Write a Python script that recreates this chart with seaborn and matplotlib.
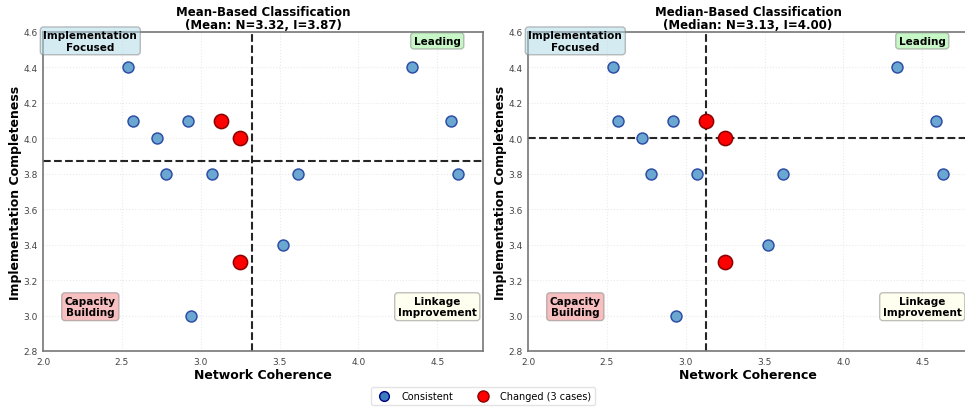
import numpy as np
import pandas as pd
import seaborn as sns
import matplotlib.pyplot as plt
from matplotlib.lines import Line2D

# network coherence / implementation completeness per case
network = [2.54, 2.57, 2.72, 2.78, 2.92, 3.07, 2.94, 3.52, 3.62, 4.34, 4.59, 4.63, 3.13, 3.25, 3.25]
implementation = [4.4, 4.1, 4.0, 3.8, 4.1, 3.8, 3.0, 3.4, 3.8, 4.4, 4.1, 3.8, 4.1, 4.0, 3.3]
changed = [False] * 12 + [True] * 3

quadrant_names = ['Implementation\nFocused', 'Leading', 'Capacity\nBuilding', 'Linkage\nImprovement']
quadrant_colors = ['lightblue', 'lightgreen', 'lightcoral', 'lightyellow']
quadrant_pos = [(2.3, 4.55), (4.5, 4.55), (2.3, 3.05), (4.5, 3.05)]

df = pd.DataFrame({'network': network, 'implementation': implementation, 'changed': changed})

sns.set_style('whitegrid')
plt.rcParams['font.family'] = ['DejaVu Sans']
plt.rcParams['text.color'] = 'black'
plt.rcParams['axes.labelcolor'] = 'black'

fig = plt.figure(figsize=(9.65, 4.1), dpi=100)
ax1 = fig.add_axes([43 / 965, 58 / 410, 440 / 965, 319 / 410])
ax2 = fig.add_axes([528 / 965, 58 / 410, 440 / 965, 319 / 410])

n_mean, i_mean = np.mean(network), np.mean(implementation)
n_med, i_med = np.median(network), np.median(implementation)

panels = [
    (ax1, n_mean, i_mean, f'Mean-Based Classification\n(Mean: N={n_mean:.2f}, I={i_mean:.2f})'),
    (ax2, n_med, i_med, f'Median-Based Classification\n(Median: N={n_med:.2f}, I={i_med:.2f})'),
]

for ax, nx, iy, title in panels:
    same = df[~df['changed']]
    diff = df[df['changed']]
    sns.scatterplot(data=same, x='network', y='implementation', ax=ax, s=62,
                    color='#6aa8d2', edgecolor='#2f4ea6', linewidth=1.1, legend=False, zorder=3)
    sns.scatterplot(data=diff, x='network', y='implementation', ax=ax, s=105,
                    color='red', edgecolor='darkred', linewidth=1.1, legend=False, zorder=4)
    ax.axvline(nx, color='black', linestyle='--', linewidth=1.5, alpha=0.85, zorder=2)
    ax.axhline(iy, color='black', linestyle='--', linewidth=1.5, alpha=0.85, zorder=2)

    for name, col, (tx, ty) in zip(quadrant_names, quadrant_colors, quadrant_pos):
        ax.text(tx, ty, name, ha='center', va='center', fontsize=7.5, fontweight='bold',
                bbox=dict(boxstyle='round,pad=0.3', facecolor=col, edgecolor='gray', alpha=0.5),
                zorder=5, clip_on=False)

    ax.set_xlim(2.0, 4.79)
    ax.set_ylim(2.8, 4.6)
    ax.set_xticks([2.0, 2.5, 3.0, 3.5, 4.0, 4.5])
    ax.set_yticks([2.8, 3.0, 3.2, 3.4, 3.6, 3.8, 4.0, 4.2, 4.4, 4.6])
    ax.tick_params(labelsize=6.5, colors='#444444', length=2, pad=2)
    ax.grid(True, linestyle=':', alpha=0.4)
    for sp in ax.spines.values():
        sp.set_color('#777777')
        sp.set_linewidth(1.2)
    ax.set_title(title, fontsize=8.5, fontweight='bold', pad=3, linespacing=1.0)
    ax.set_xlabel('Network Coherence', fontsize=9, fontweight='bold', labelpad=2)
    ax.set_ylabel('Implementation Completeness', fontsize=9, fontweight='bold', labelpad=1)

handles = [
    Line2D([], [], marker='o', linestyle='', markersize=7, markerfacecolor='#3a7cbd',
           markeredgecolor='navy', label='Consistent'),
    Line2D([], [], marker='o', linestyle='', markersize=8, markerfacecolor='red',
           markeredgecolor='darkred', label='Changed (3 cases)'),
]
fig.legend(handles=handles, loc='center', bbox_to_anchor=(483 / 965, 13 / 410), ncol=2,
           fontsize=7, frameon=True, edgecolor='#dddddd', handletextpad=0.8, columnspacing=2.0)

fig.savefig('out.png', dpi=100)
